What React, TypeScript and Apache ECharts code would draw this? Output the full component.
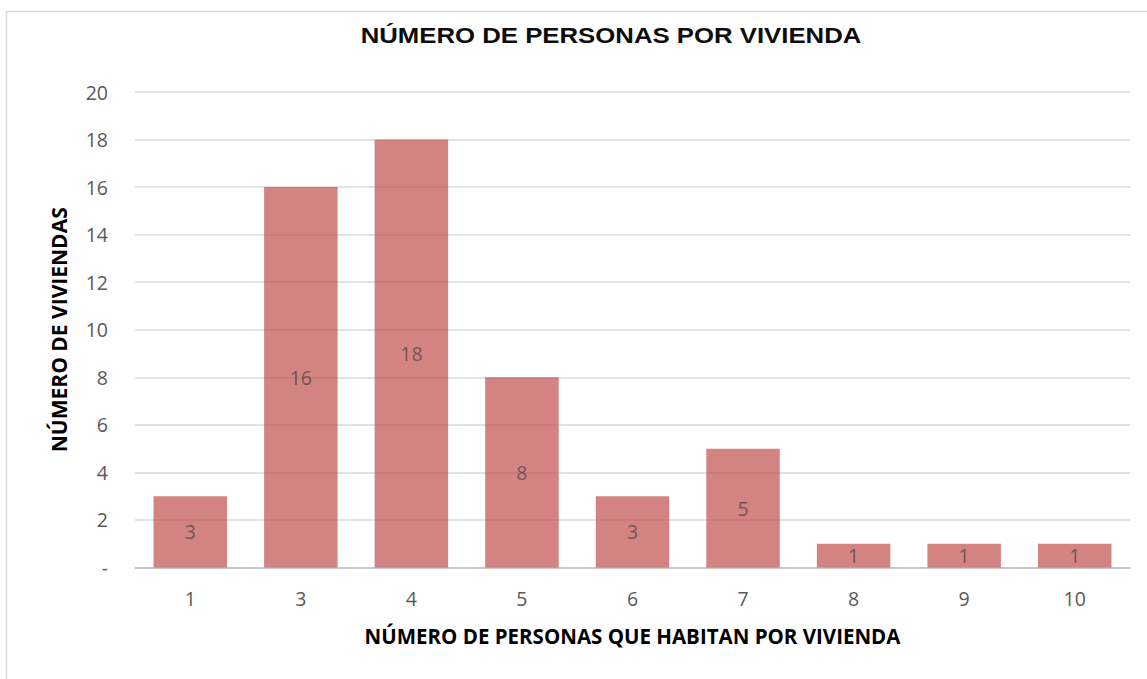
import React, { useEffect, useRef } from "react";
import * as echarts from "echarts";

const categories = ["1", "3", "4", "5", "6", "7", "8", "9", "10"];
const viviendas = [3, 16, 18, 8, 3, 5, 1, 1, 1];
const yTicks = { min: 0, max: 20, interval: 2 };

const titleText = "NÚMERO DE PERSONAS POR VIVIENDA";
const xName = "NÚMERO DE PERSONAS QUE HABITAN POR VIVIENDA";
const yName = "NÚMERO DE VIVIENDAS";

const sans = "'Open Sans', Lato, sans-serif";

export default function App() {
  const ref = useRef<HTMLDivElement>(null);
  useEffect(() => {
    document.body.style.margin = "0";
    const chart = echarts.init(ref.current!, undefined, { renderer: "svg" });
    chart.setOption({
      animation: false,
      backgroundColor: "#ffffff",
      graphic: [
        {
          type: "rect",
          shape: { x: 6.5, y: 11.5, width: 1160, height: 700 },
          style: { fill: "none", stroke: "#d9d9d9", lineWidth: 1.5 },
          silent: true,
        },
        {
          type: "text",
          x: 611,
          y: 35,
          scaleX: 1.12,
          style: {
            text: titleText,
            textAlign: "center",
            textVerticalAlign: "middle",
            fontFamily: "'Liberation Sans', Arial, sans-serif",
            fontWeight: "bold",
            fontSize: 23,
            fill: "#0d0d0d",
          },
        },
      ],
      grid: { left: 135, right: 17, top: 92, bottom: 111.5 },
      xAxis: {
        type: "category",
        data: categories,
        name: xName,
        nameLocation: "middle",
        nameGap: 58,
        nameTextStyle: {
          fontFamily: sans,
          fontWeight: "bold",
          fontSize: 20.5,
          color: "#000000",
        },
        axisLine: { lineStyle: { color: "#bfbfbf", width: 1.5 } },
        axisTick: { show: false },
        axisLabel: { fontFamily: sans, fontSize: 19.5, color: "#595959", margin: 21 },
      },
      yAxis: {
        type: "value",
        min: yTicks.min,
        max: yTicks.max,
        interval: yTicks.interval,
        name: yName,
        nameLocation: "middle",
        nameGap: 66,
        nameTextStyle: {
          fontFamily: sans,
          fontWeight: "bold",
          fontSize: 21,
          color: "#000000",
        },
        axisLine: { show: false },
        axisTick: { show: false },
        splitLine: { lineStyle: { color: "#d9d9d9", width: 1.5 } },
        axisLabel: {
          fontFamily: sans,
          fontSize: 19.5,
          color: "#595959",
          margin: 27,
          formatter: (v: number) => (v === 0 ? "-" : String(v)),
        },
      },
      series: [
        {
          type: "bar",
          data: viviendas,
          barCategoryGap: "33.5%",
          itemStyle: { color: "#C0504D", opacity: 0.7 },
          label: {
            show: true,
            position: "inside",
            fontFamily: sans,
            fontSize: 19.5,
            color: "#404040",
          },
        },
      ],
    });
    return () => chart.dispose();
  }, []);
  return <div ref={ref} style={{ width: 1147, height: 679 }} />;
}
